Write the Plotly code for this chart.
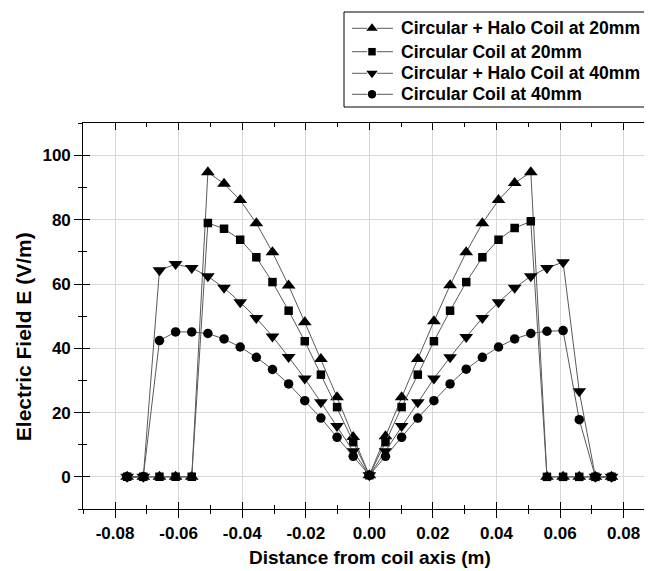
import plotly.graph_objects as go

# x positions: multiples of 0.2 inch (5.08 mm), from -15 to 15 steps
step_index = list(range(-15, 16))
x_pos = [k * 0.00508 for k in step_index]

halo_20 = [0, 0, 0, 0, 0,
           94.8, 91.2, 86.1, 78.9, 69.9, 59.5, 48.1, 36.7, 24.8, 12.4,
           0.5,
           12.6, 24.8, 36.7, 48.4, 59.6, 69.9, 78.9, 86.1, 91.4, 94.8,
           0, 0, 0, 0, 0]
circ_20 = [0, 0, 0, 0, 0,
           79.0, 77.2, 73.8, 68.3, 60.6, 51.7, 42.2, 31.8, 21.7, 10.8,
           0.5,
           10.8, 21.7, 31.8, 42.2, 51.7, 60.6, 68.3, 73.8, 77.4, 79.5,
           0, 0, 0, 0, 0]
halo_40 = [0, 0,
           64.3, 66.2, 65.0, 62.4, 58.8, 54.3, 49.4, 43.7, 37.3, 30.6, 23.2, 15.8, 8.0,
           0.5,
           8.0, 15.8, 23.2, 30.6, 37.2, 43.5, 49.4, 54.3, 58.8, 62.4, 65.0, 66.8, 26.6,
           0, 0]
circ_40 = [0, 0,
           42.4, 45.1, 45.1, 44.6, 42.9, 40.4, 37.2, 33.4, 28.9, 23.7, 18.3, 12.3, 6.4,
           0.5,
           6.4, 12.3, 18.3, 23.7, 28.9, 33.5, 37.2, 40.4, 42.9, 44.6, 45.3, 45.5, 17.8,
           0, 0]

series_names = ["Circular + Halo Coil at 20mm", "Circular Coil at 20mm",
                "Circular + Halo Coil at 40mm", "Circular Coil at 40mm"]
series_values = [halo_20, circ_20, halo_40, circ_40]
series_symbols = ["triangle-up", "square", "triangle-down", "circle"]
series_sizes = [12, 8.5, 12, 9.5]
legend_sizes = [10, 7.5, 10, 8.5]

x_tick_vals = [-0.08, -0.06, -0.04, -0.02, 0.0, 0.02, 0.04, 0.06, 0.08]
x_tick_labels = ["-0.08", "-0.06", "-0.04", "-0.02", "0.00", "0.02", "0.04", "0.06", "0.08"]
x_minor_vals = [-0.09, -0.07, -0.05, -0.03, -0.01, 0.01, 0.03, 0.05, 0.07, 0.09]
y_tick_vals = [0, 20, 40, 60, 80, 100]
y_tick_labels = ["0", "20", "40", "60", "80", "100"]
y_minor_vals = [-10, 10, 30, 50, 70, 90, 110]

FONT = "Liberation Sans, Arial, sans-serif"
GRID = "#d8d8d8"
LINE = "#5a5a5a"
x_range = [-0.09, 0.09]
y_range = [-10, 110]

W, H = 652, 571
# layout helpers (figure pixel -> paper fraction)
def px(v):
    return v / W
def py(v):
    return 1 - v / H

fig = go.Figure()
for name, vals, sym, sz in zip(series_names, series_values, series_symbols, series_sizes):
    fig.add_trace(go.Scatter(
        x=x_pos, y=vals, name=name, mode="lines+markers",
        line=dict(color=LINE, width=1),
        marker=dict(symbol=sym, size=sz, color="black"),
        showlegend=False,
    ))

# invisible trace to anchor the overlay axes (inside / mirrored ticks)
fig.add_trace(go.Scatter(x=[None], y=[None], xaxis="x2", yaxis="y2",
                         showlegend=False, hoverinfo="skip", mode="markers"))

# ---- hand-built legend (drawn on its own small axes, in pixel units) ----
leg_rows = [20.3, 43.7, 65.3, 86.3]   # row centres (figure px)
leg_seg = [344, 359, 369, 385]
leg_mark_x = 364
for sym, lsz, row in zip(series_symbols, legend_sizes, leg_rows):
    fig.add_trace(go.Scatter(
        x=[leg_seg[0], leg_seg[1], None, leg_seg[2], leg_seg[3]],
        y=[row, row, None, row, row], mode="lines",
        line=dict(color=LINE, width=1), xaxis="x3", yaxis="y3",
        showlegend=False, hoverinfo="skip"))
    fig.add_trace(go.Scatter(
        x=[leg_mark_x], y=[row], mode="markers",
        marker=dict(symbol=sym, size=lsz, color="black"),
        xaxis="x3", yaxis="y3", showlegend=False, hoverinfo="skip"))

tick_font = dict(family=FONT, size=17, color="black", weight="bold")

annotations = [
    dict(text="Electric Field E (V/m)", xref="paper", yref="paper",
         x=px(15.5), y=py(328.7), xanchor="center", yanchor="middle",
         textangle=-90, showarrow=False,
         font=dict(family=FONT, size=21, color="black", weight="bold")),
    dict(text="Distance from coil axis (m)", xref="paper", yref="paper",
         x=px(362), y=py(549.5), xanchor="center", yanchor="middle",
         showarrow=False,
         font=dict(family=FONT, size=19, color="black", weight="bold")),
]
for name, row in zip(series_names, leg_rows):
    annotations.append(dict(
        text=name, xref="paper", yref="paper", x=px(390.5), y=py(row),
        xanchor="left", yanchor="middle", showarrow=False,
        font=dict(family=FONT, size=17.6, color="black", weight="bold")))

fig.update_layout(
    width=W, height=H,
    margin=dict(l=0, r=0, t=0, b=0),
    paper_bgcolor="white", plot_bgcolor="white",
    font=dict(family=FONT, color="black"),
    showlegend=False,
    xaxis=dict(
        domain=[px(75.3), px(647.4)], anchor="y",
        range=x_range, tickvals=x_tick_vals, ticktext=x_tick_labels,
        ticks="outside", ticklen=8, tickwidth=1.2, tickcolor="black",
        showline=True, linecolor="black", linewidth=1.2, mirror=True,
        showgrid=True, gridcolor=GRID, gridwidth=1, zeroline=False,
        tickfont=tick_font,
        minor=dict(tickvals=x_minor_vals,
                   ticks="outside", ticklen=4, tickcolor="black", tickwidth=1.2, showgrid=False),
    ),
    yaxis=dict(
        domain=[py(501), py(115.3)], anchor="x",
        range=y_range, tickvals=y_tick_vals, ticktext=y_tick_labels,
        ticks="outside", ticklen=8, tickwidth=1.2, tickcolor="black",
        showline=True, linecolor="black", linewidth=1.2, mirror=True,
        showgrid=True, gridcolor=GRID, gridwidth=1, zeroline=False,
        tickfont=tick_font,
        minor=dict(tickvals=y_minor_vals,
                   ticks="outside", ticklen=4, tickcolor="black", tickwidth=1.2, showgrid=False),
    ),
    xaxis2=dict(
        overlaying="x", anchor="y2", range=x_range, tickvals=x_tick_vals,
        ticks="inside", ticklen=7, tickwidth=1.2, tickcolor="black",
        mirror="ticks", showline=False, showgrid=False, zeroline=False,
        showticklabels=False,
        minor=dict(tickvals=x_minor_vals,
                   ticks="inside", ticklen=4, tickcolor="black", tickwidth=1.2, showgrid=False),
    ),
    yaxis2=dict(
        overlaying="y", anchor="x2", range=y_range, tickvals=y_tick_vals,
        ticks="inside", ticklen=7, tickwidth=1.2, tickcolor="black",
        mirror="ticks", showline=False, showgrid=False, zeroline=False,
        showticklabels=False,
        minor=dict(tickvals=y_minor_vals,
                   ticks="inside", ticklen=4, tickcolor="black", tickwidth=1.2, showgrid=False),
    ),
    xaxis3=dict(domain=[px(340), px(389)], anchor="y3", range=[340, 389],
                visible=False, fixedrange=True),
    yaxis3=dict(domain=[py(97), py(6)], anchor="x3", range=[97, 6],
                visible=False, fixedrange=True),
    shapes=[dict(type="rect", xref="paper", yref="paper",
                 x0=px(336), x1=px(640), y0=py(99), y1=py(4),
                 line=dict(color="black", width=1), fillcolor="rgba(0,0,0,0)",
                 layer="above")],
    annotations=annotations,
)

fig.write_html("out.html")
